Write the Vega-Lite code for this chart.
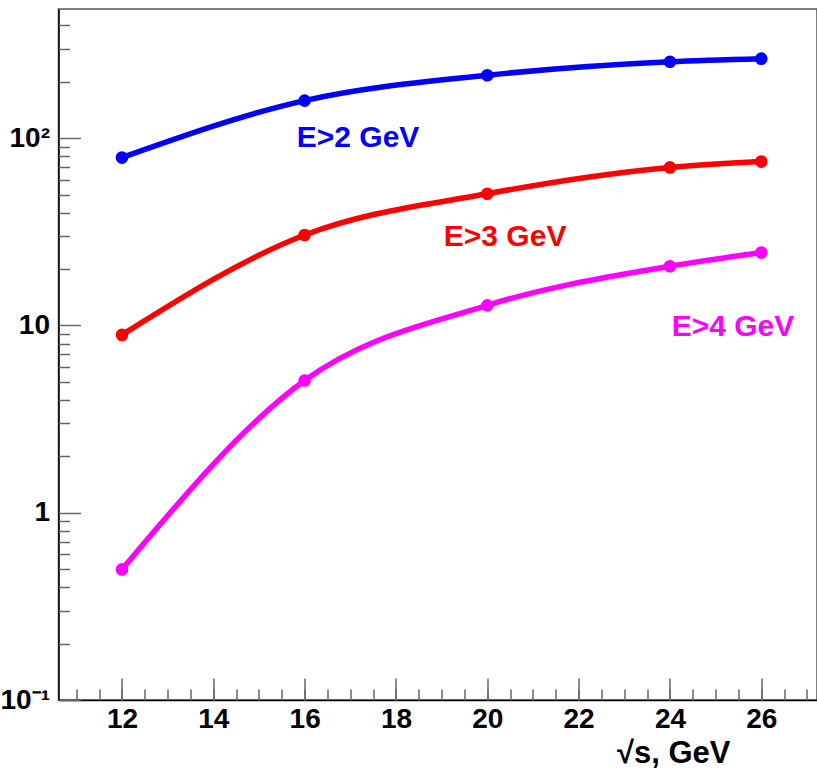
{
  "$schema": "https://vega.github.io/schema/vega-lite/v6.json",
  "width": 758.5,
  "height": 691,
  "autosize": {"type": "none"},
  "padding": {"left": 58.5, "top": 9, "right": 0, "bottom": 71},
  "background": "white",
  "config": {"view": {"stroke": "#555555", "strokeWidth": 1.5}, "axis": {"grid": false}},
  "datasets": {
    "curves": [
      {"sqrt_s": 12, "n": 78.8, "series": "E>2"},
      {"sqrt_s": 16, "n": 158.7, "series": "E>2"},
      {"sqrt_s": 20, "n": 216.8, "series": "E>2"},
      {"sqrt_s": 24, "n": 256, "series": "E>2"},
      {"sqrt_s": 26, "n": 265.8, "series": "E>2"},
      {"sqrt_s": 12, "n": 8.9, "series": "E>3"},
      {"sqrt_s": 16, "n": 30.4, "series": "E>3"},
      {"sqrt_s": 20, "n": 50.5, "series": "E>3"},
      {"sqrt_s": 24, "n": 69.8, "series": "E>3"},
      {"sqrt_s": 26, "n": 75, "series": "E>3"},
      {"sqrt_s": 12, "n": 0.498, "series": "E>4"},
      {"sqrt_s": 16, "n": 5.08, "series": "E>4"},
      {"sqrt_s": 20, "n": 12.8, "series": "E>4"},
      {"sqrt_s": 24, "n": 20.7, "series": "E>4"},
      {"sqrt_s": 26, "n": 24.5, "series": "E>4"}
    ],
    "labels": [
      {"sqrt_s": 17.17, "n": 90.2, "series": "E>2", "label": "E>2 GeV"},
      {"sqrt_s": 20.39, "n": 26.4, "series": "E>3", "label": "E>3 GeV"},
      {"sqrt_s": 25.38, "n": 8.75, "series": "E>4", "label": "E>4 GeV"}
    ]
  },
  "layer": [
    {
      "data": {"name": "curves"},
      "mark": {"type": "line", "interpolate": "monotone", "strokeWidth": 5.5},
      "encoding": {
        "x": {
          "field": "sqrt_s", "type": "quantitative",
          "scale": {"domain": [10.61, 27.22], "nice": false, "zero": false},
          "axis": {
            "orient": "bottom", "values": [12, 14, 16, 18, 20, 22, 24, 26],
            "ticks": false, "domainColor": "#000000", "domainWidth": 1.5,
            "labelFont": "Liberation Sans",
            "labelFontWeight": "bold", "labelFontSize": 28, "labelColor": "#000000",
            "labelPadding": 5, "labelFlush": false, "labelOverlap": false,
            "title": "√s, GeV",
            "titleFont": "Liberation Sans",
            "titleFontSize": 31, "titleFontWeight": "bold", "titleColor": "#000000",
            "titleAlign": "right", "titleAnchor": "end", "titleBaseline": "alphabetic",
            "titleX": 671.5, "titleY": 62
          }
        },
        "y": {
          "field": "n", "type": "quantitative",
          "scale": {"type": "log", "domain": [0.1, 489.5], "nice": false},
          "axis": {
            "orient": "left", "values": [0.1, 1, 10, 100],
            "ticks": false, "domainColor": "#000000", "domainWidth": 1.5,
            "labelExpr": "datum.value >= 99 ? '10²' : (datum.value >= 9 ? '10' : (datum.value >= 0.9 ? '1' : '10⁻¹'))",
            "labelFont": "Liberation Sans",
            "labelFontWeight": "bold", "labelFontSize": 28, "labelColor": "#000000",
            "labelPadding": 9, "labelOverlap": false, "labelFlush": false,
            "title": null
          }
        },
        "color": {
          "field": "series", "type": "nominal",
          "scale": {"domain": ["E>2", "E>3", "E>4"], "range": ["#0000ff", "#ff0000", "#ff00ff"]},
          "legend": null
        }
      }
    },
    {
      "data": {"name": "curves"},
      "mark": {"type": "point", "filled": true, "opacity": 1, "size": 160},
      "encoding": {
        "x": {
          "field": "sqrt_s", "type": "quantitative",
          "axis": {
            "orient": "bottom", "values": [12, 14, 16, 18, 20, 22, 24, 26],
            "labels": false, "domain": false, "ticks": true, "tickSize": -22,
            "tickColor": "#666666", "tickWidth": 1.5, "title": null
          }
        },
        "y": {
          "field": "n", "type": "quantitative",
          "axis": {
            "orient": "left", "values": [0.1, 1, 10, 100],
            "labels": false, "domain": false, "ticks": true, "tickSize": -22,
            "tickColor": "#666666", "tickWidth": 1.5, "title": null
          }
        },
        "color": {"field": "series", "type": "nominal", "legend": null}
      }
    },
    {
      "data": {"name": "labels"},
      "mark": {"type": "text", "font": "Liberation Sans", "fontWeight": "bold", "fontSize": 30, "align": "center", "baseline": "alphabetic"},
      "encoding": {
        "x": {
          "field": "sqrt_s", "type": "quantitative",
          "axis": {
            "orient": "bottom",
            "values": [11, 11.5, 12, 12.5, 13, 13.5, 14, 14.5, 15, 15.5, 16, 16.5, 17, 17.5, 18, 18.5, 19, 19.5, 20, 20.5, 21, 21.5, 22, 22.5, 23, 23.5, 24, 24.5, 25, 25.5, 26, 26.5, 27],
            "labels": false, "domain": false, "ticks": true, "tickSize": -11,
            "tickColor": "#666666", "tickWidth": 1.5, "title": null
          }
        },
        "y": {
          "field": "n", "type": "quantitative",
          "axis": {
            "orient": "left",
            "values": [0.2, 0.3, 0.4, 0.5, 0.6, 0.7, 0.8, 0.9, 2, 3, 4, 5, 6, 7, 8, 9, 20, 30, 40, 50, 60, 70, 80, 90, 200, 300, 400],
            "labels": false, "domain": false, "ticks": true, "tickSize": -11,
            "tickColor": "#666666", "tickWidth": 1.5, "title": null
          }
        },
        "text": {"field": "label"},
        "color": {"field": "series", "type": "nominal", "legend": null}
      }
    }
  ],
  "resolve": {"axis": {"x": "independent", "y": "independent"}}
}
